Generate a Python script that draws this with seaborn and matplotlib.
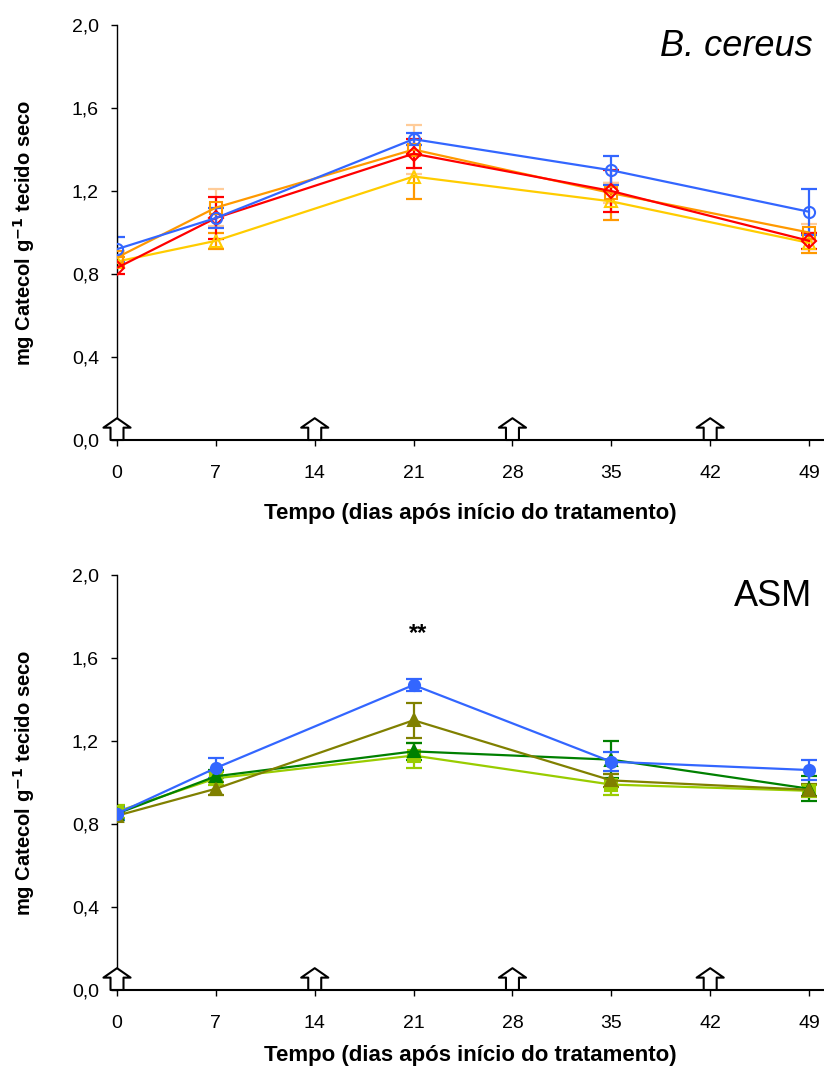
import matplotlib
matplotlib.use("Agg")
import matplotlib.pyplot as plt
import seaborn as sns
import numpy as np
import pandas as pd

days = [0, 7, 21, 35, 49]
arrow_days = [0, 14, 28, 42]
xticks = [0, 7, 14, 21, 28, 35, 42, 49]
yticks = [0.0, 0.4, 0.8, 1.2, 1.6, 2.0]
ytick_labels = ["0,0", "0,4", "0,8", "1,2", "1,6", "2,0"]

# Top panel: B. cereus
bc_blue = [0.92, 1.07, 1.45, 1.30, 1.10]
bc_blue_err = [0.06, 0.05, 0.03, 0.07, 0.11]
bc_red = [0.83, 1.07, 1.38, 1.20, 0.96]
bc_red_err = [0.03, 0.10, 0.07, 0.10, 0.04]
bc_orange = [0.88, 1.12, 1.40, 1.19, 1.00]
bc_orange_err = [0.03, 0.09, 0.12, 0.05, 0.04]
bc_yellow = [0.86, 0.96, 1.27, 1.15, 0.95]
bc_yellow_err = [0.02, 0.04, 0.11, 0.09, 0.05]

# Bottom panel: ASM
asm_blue = [0.85, 1.07, 1.47, 1.10, 1.06]
asm_blue_err = [0.03, 0.05, 0.03, 0.045, 0.05]
asm_green = [0.85, 1.03, 1.15, 1.11, 0.97]
asm_green_err = [0.03, 0.03, 0.04, 0.09, 0.06]
asm_lgreen = [0.86, 1.02, 1.13, 0.99, 0.96]
asm_lgreen_err = [0.03, 0.03, 0.06, 0.05, 0.03]
asm_olive = [0.84, 0.97, 1.30, 1.01, 0.965]
asm_olive_err = [0.02, 0.03, 0.085, 0.03, 0.03]

sns.set_style("ticks")
plt.rcParams["font.family"] = ["Liberation Sans", "DejaVu Sans"]
for k in ("text.color", "axes.labelcolor", "xtick.color", "ytick.color",
          "axes.edgecolor"):
    plt.rcParams[k] = "black"

fig = plt.figure(figsize=(8.24, 10.75), dpi=100)
ax1 = fig.add_axes([0.142, 0.5907, 0.857, 0.386])
ax2 = fig.add_axes([0.142, 0.0791, 0.857, 0.386])

top_series = [
    (bc_yellow, bc_yellow_err, "#FFCC00", "#FF9900", "^", False),
    (bc_orange, bc_orange_err, "#FF9900", "#FFCC99", "s", False),
    (bc_red, bc_red_err, "#FF0000", "#FF0000", "D", False),
    (bc_blue, bc_blue_err, "#3366FF", "#3366FF", "o", False),
]
bot_series = [
    (asm_lgreen, asm_lgreen_err, "#99CC00", "#99CC00", "s", True),
    (asm_green, asm_green_err, "#008000", "#008000", "^", True),
    (asm_olive, asm_olive_err, "#808000", "#808000", "^", True),
    (asm_blue, asm_blue_err, "#3366FF", "#3366FF", "o", True),
]

def draw(ax, series):
    for vals, err, col, ecol, mk, filled in series:
        ax.errorbar(days, vals, yerr=err, fmt="none", ecolor=ecol,
                    elinewidth=1.6, capsize=6, capthick=1.6, zorder=2)
        df = pd.DataFrame({"d": days, "v": vals})
        ms = 7 if mk == "D" else 8
        sns.lineplot(data=df, x="d", y="v", ax=ax, color=col, marker=mk,
                     markersize=ms, linewidth=1.6,
                     markerfacecolor=(col if filled else "none"),
                     markeredgecolor=col, markeredgewidth=1.5, zorder=3)

draw(ax1, top_series)
draw(ax2, bot_series)

for ax, ylab in ((ax1, -0.178), (ax2, -0.157)):
    ax.set_xlim(0, 50)
    ax.set_ylim(0, 2.0)
    ax.set_xticks(xticks)
    ax.set_xticklabels([str(t) for t in xticks], fontsize=14)
    ax.set_yticks(yticks)
    ax.set_yticklabels(ytick_labels, fontsize=14)
    ax.tick_params(axis="x", direction="out", length=4, width=1, pad=14)
    ax.tick_params(axis="y", direction="out", length=4, width=1, pad=9)
    sns.despine(ax=ax)
    ax.spines["left"].set_linewidth(1)
    ax.spines["bottom"].set_linewidth(1.5)
    ax.set_xlabel("Tempo (dias após início do tratamento)", fontsize=16,
                  fontweight="bold", va="center")
    ax.xaxis.set_label_coords(0.5, ylab)
    ax.set_ylabel("mg Catecol g$^{\\mathbf{-1}}$ tecido seco", fontsize=14.5,
                  fontweight="bold", va="center")
    ax.yaxis.set_label_coords(-0.131, 0.5)
    for d in arrow_days:
        ax.annotate("", xy=(d, 0.105), xytext=(d, 0.0),
                    arrowprops=dict(arrowstyle="simple,head_length=0.4,head_width=1.15,tail_width=0.55",
                                    fc="white", ec="black", lw=1.5,
                                    mutation_scale=17, shrinkA=0, shrinkB=0),
                    annotation_clip=False, zorder=5)

ax1.text(0.985, 0.99, "B. cereus", transform=ax1.transAxes, ha="right",
         va="top", fontsize=26, fontstyle="italic")
ax2.text(0.985, 0.99, "ASM", transform=ax2.transAxes, ha="right",
         va="top", fontsize=26)
ax2.text(21.3, 1.665, "**", ha="center", va="bottom", fontsize=17,
         fontweight="bold")

fig.savefig("out.png", dpi=100)
